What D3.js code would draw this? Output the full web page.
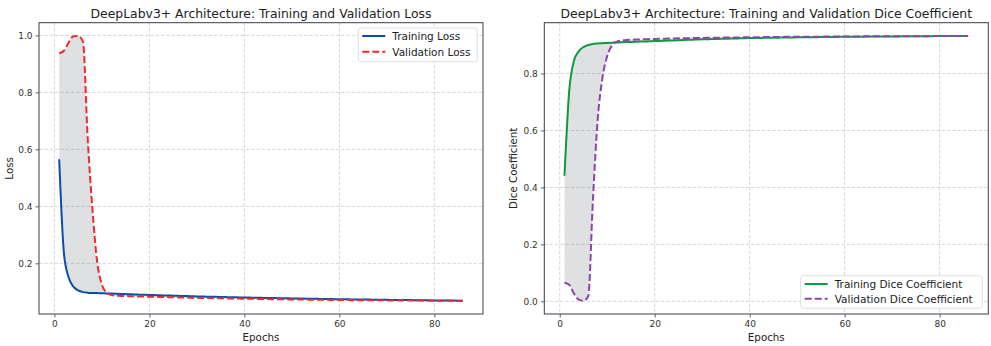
<!DOCTYPE html>
<html>
<head>
<meta charset="utf-8">
<script src="https://cdn.jsdelivr.net/npm/d3@7"></script>
<style>
  body { margin: 0; background: #fff; }
  svg { display: block; font-family: "DejaVu Sans", sans-serif; }
</style>
</head>
<body>
<div class="svg-container"></div>
<script>
const epochs = d3.range(1, 87);

const trainLoss = [
  0.565, 0.235, 0.150, 0.118, 0.105, 0.099, 0.097, 0.0960, 0.0955, 0.0950,
  0.0944, 0.0938, 0.0932, 0.0926, 0.0920, 0.0914, 0.0908, 0.0902, 0.0896, 0.0890,
  0.0885, 0.0880, 0.0875, 0.0870, 0.0865, 0.0860, 0.0855, 0.0850, 0.0845, 0.0840,
  0.0836, 0.0832, 0.0828, 0.0824, 0.0820, 0.0816, 0.0812, 0.0808, 0.0804, 0.0800,
  0.0797, 0.0794, 0.0791, 0.0788, 0.0785, 0.0782, 0.0779, 0.0776, 0.0773, 0.0770,
  0.0767, 0.0764, 0.0761, 0.0758, 0.0755, 0.0752, 0.0749, 0.0746, 0.0743, 0.0740,
  0.0738, 0.0736, 0.0734, 0.0732, 0.0730, 0.0728, 0.0726, 0.0724, 0.0722, 0.0720,
  0.0718, 0.0716, 0.0714, 0.0712, 0.0710, 0.0708, 0.0706, 0.0704, 0.0702, 0.0700,
  0.0698, 0.0696, 0.0694, 0.0692, 0.0690, 0.0688
];

const valLoss = [
  0.937, 0.946, 0.975, 0.997, 0.998, 0.978, 0.640, 0.390, 0.205, 0.125,
  0.097, 0.089, 0.0865, 0.0858, 0.0852, 0.0847, 0.0842, 0.0838, 0.0834, 0.0830,
  0.0826, 0.0822, 0.0818, 0.0814, 0.0810, 0.0806, 0.0802, 0.0798, 0.0794, 0.0790,
  0.0787, 0.0784, 0.0781, 0.0778, 0.0775, 0.0772, 0.0769, 0.0766, 0.0763, 0.0760,
  0.0757, 0.0754, 0.0751, 0.0748, 0.0745, 0.0742, 0.0740, 0.0738, 0.0736, 0.0734,
  0.0732, 0.0730, 0.0728, 0.0726, 0.0724, 0.0722, 0.0720, 0.0718, 0.0716, 0.0714,
  0.0712, 0.0710, 0.0708, 0.0706, 0.0705, 0.0704, 0.0703, 0.0702, 0.0701, 0.0700,
  0.0699, 0.0698, 0.0697, 0.0696, 0.0695, 0.0694, 0.0693, 0.0692, 0.0691, 0.0690,
  0.0689, 0.0689, 0.0688, 0.0688, 0.0687, 0.0687
];

const trainDice = [
  0.441, 0.740, 0.845, 0.878, 0.893, 0.900, 0.904, 0.9055, 0.9065, 0.9075,
  0.9083, 0.9090, 0.9097, 0.9104, 0.9110, 0.9116, 0.9122, 0.9127, 0.9132, 0.9140,
  0.9146, 0.9152, 0.9158, 0.9164, 0.9170, 0.9176, 0.9182, 0.9188, 0.9194, 0.9200,
  0.9205, 0.9209, 0.9214, 0.9218, 0.9223, 0.9227, 0.9232, 0.9236, 0.9241, 0.9245,
  0.9248, 0.9250, 0.9253, 0.9255, 0.9258, 0.9260, 0.9263, 0.9265, 0.9268, 0.9270,
  0.9272, 0.9274, 0.9276, 0.9278, 0.9280, 0.9282, 0.9284, 0.9286, 0.9288, 0.9290,
  0.9291, 0.9293, 0.9294, 0.9295, 0.9297, 0.9298, 0.9299, 0.9300, 0.9302, 0.9303,
  0.9304, 0.9305, 0.9306, 0.9308, 0.9309, 0.9310, 0.9311, 0.9312, 0.9314, 0.9315,
  0.9316, 0.9317, 0.9318, 0.9318, 0.9319, 0.9320
];

const valDice = [
  0.065, 0.058, 0.027, 0.006, 0.002, 0.018, 0.360, 0.640, 0.785, 0.862,
  0.898, 0.912, 0.916, 0.9175, 0.9185, 0.9192, 0.9198, 0.9204, 0.9210, 0.9215,
  0.9219, 0.9223, 0.9227, 0.9231, 0.9235, 0.9238, 0.9241, 0.9244, 0.9247, 0.9250,
  0.9253, 0.9255, 0.9258, 0.9260, 0.9263, 0.9265, 0.9267, 0.9269, 0.9271, 0.9273,
  0.9275, 0.9277, 0.9279, 0.9281, 0.9283, 0.9285, 0.9287, 0.9288, 0.9290, 0.9291,
  0.9292, 0.9293, 0.9294, 0.9295, 0.9296, 0.9297, 0.9298, 0.9299, 0.9300, 0.9301,
  0.9302, 0.9303, 0.9304, 0.9305, 0.9306, 0.9307, 0.9308, 0.9308, 0.9309, 0.9310,
  0.9310, 0.9311, 0.9311, 0.9312, 0.9312, 0.9313, 0.9313, 0.9314, 0.9314, 0.9315,
  0.9315, 0.9316, 0.9316, 0.9317, 0.9317, 0.9318
];

const xTicks = [0, 20, 40, 60, 80];
const lossTicks = [0.2, 0.4, 0.6, 0.8, 1.0];
const diceTicks = [0.0, 0.2, 0.4, 0.6, 0.8];

const widthSVG = 991;
const heightSVG = 346;

const svg = d3.select('.svg-container')
  .append('svg')
  .attr('width', widthSVG)
  .attr('height', heightSVG);

// matplotlib-like 5% margins
function padded(lo, hi) {
  const m = (hi - lo) * 0.05;
  return [lo - m, hi + m];
}

function drawPanel(opts) {
  const { left, right, top, bottom } = opts.box;
  const g = svg.append('g');

  const x = d3.scaleLinear()
    .domain(padded(d3.min(epochs), d3.max(epochs)))
    .range([left, right]);
  const allVals = opts.train.concat(opts.val);
  const y = d3.scaleLinear()
    .domain(padded(d3.min(allVals), d3.max(allVals)))
    .range([bottom, top]);

  // grid
  g.append('g').selectAll('line.vg')
    .data(xTicks).enter().append('line')
    .attr('x1', d => x(d)).attr('x2', d => x(d))
    .attr('y1', top).attr('y2', bottom)
    .attr('stroke', '#cdcdcd').attr('stroke-width', 0.8)
    .attr('stroke-dasharray', '3.5,1.8');
  g.append('g').selectAll('line.hg')
    .data(opts.yTicks).enter().append('line')
    .attr('x1', left).attr('x2', right)
    .attr('y1', d => y(d)).attr('y2', d => y(d))
    .attr('stroke', '#cdcdcd').attr('stroke-width', 0.8)
    .attr('stroke-dasharray', '3.5,1.8');

  const rows = epochs.map((e, i) => ({ e, t: opts.train[i], v: opts.val[i] }));

  // shaded gap between the two curves
  const area = d3.area()
    .curve(d3.curveMonotoneX)
    .x(d => x(d.e))
    .y0(d => y(d.t))
    .y1(d => y(d.v));
  g.append('path')
    .datum(rows)
    .attr('d', area)
    .attr('fill', 'rgb(128,130,135)')
    .attr('fill-opacity', 0.25);

  const lineT = d3.line().curve(d3.curveMonotoneX).x(d => x(d.e)).y(d => y(d.t));
  const lineV = d3.line().curve(d3.curveMonotoneX).x(d => x(d.e)).y(d => y(d.v));

  g.append('path').datum(rows)
    .attr('d', lineT)
    .attr('fill', 'none')
    .attr('stroke', opts.trainColor)
    .attr('stroke-width', 2);
  g.append('path').datum(rows)
    .attr('d', lineV)
    .attr('fill', 'none')
    .attr('stroke', opts.valColor)
    .attr('stroke-width', 2)
    .attr('stroke-dasharray', '7,3');

  // frame
  g.append('rect')
    .attr('x', left).attr('y', top)
    .attr('width', right - left).attr('height', bottom - top)
    .attr('fill', 'none')
    .attr('stroke', '#3b3f48')
    .attr('stroke-width', 1);

  // axes
  const xAxis = d3.axisBottom(x).tickValues(xTicks).tickSize(3.5).tickPadding(3)
    .tickFormat(d3.format('d'));
  const yAxis = d3.axisLeft(y).tickValues(opts.yTicks).tickSize(3.5).tickPadding(3)
    .tickFormat(d3.format('.1f'));

  const gx = g.append('g').attr('transform', `translate(0,${bottom})`).call(xAxis);
  const gy = g.append('g').attr('transform', `translate(${left},0)`).call(yAxis);
  [gx, gy].forEach(a => {
    a.select('.domain').remove();
    a.selectAll('line').attr('stroke', '#3b3f48').attr('stroke-width', 0.8);
    a.selectAll('text').attr('fill', '#333').style('font-size', '9px')
      .style('font-family', '"DejaVu Sans", sans-serif');
  });

  // title + labels
  g.append('text')
    .attr('x', (left + right) / 2).attr('y', 17.5)
    .attr('text-anchor', 'middle')
    .attr('fill', '#222')
    .style('font-size', '12.4px')
    .text(opts.title);
  g.append('text')
    .attr('x', (left + right) / 2).attr('y', 341)
    .attr('text-anchor', 'middle')
    .attr('fill', '#222')
    .style('font-size', '10.3px')
    .text('Epochs');
  g.append('text')
    .attr('transform', `translate(${opts.yLabelX},${(top + bottom) / 2}) rotate(-90)`)
    .attr('text-anchor', 'middle')
    .attr('fill', '#222')
    .style('font-size', '10.3px')
    .text(opts.yLabel);

  // legend
  const lg = opts.legend;
  g.append('rect')
    .attr('x', lg.x).attr('y', lg.y)
    .attr('width', lg.w).attr('height', lg.h)
    .attr('rx', 2.5)
    .attr('fill', 'white').attr('fill-opacity', 0.85)
    .attr('stroke', '#d6d6d6').attr('stroke-width', 0.8);
  const items = [
    { label: opts.trainLabel, color: opts.trainColor, dash: null },
    { label: opts.valLabel, color: opts.valColor, dash: '7,3' }
  ];
  items.forEach((it, i) => {
    const yy = lg.y + lg.firstRow + i * lg.rowGap;
    g.append('line')
      .attr('x1', lg.x + 4).attr('x2', lg.x + 27)
      .attr('y1', yy).attr('y2', yy)
      .attr('stroke', it.color).attr('stroke-width', 2)
      .attr('stroke-dasharray', it.dash);
    g.append('text')
      .attr('x', lg.x + 34).attr('y', yy + 3.8)
      .attr('fill', '#222')
      .style('font-size', '10.5px')
      .text(it.label);
  });
}

drawPanel({
  box: { left: 39, right: 483, top: 22.7, bottom: 314 },
  train: trainLoss, val: valLoss,
  yTicks: lossTicks,
  trainColor: '#0b4ea6', valColor: '#ee2a2f',
  title: 'DeepLabv3+ Architecture: Training and Validation Loss',
  yLabel: 'Loss', yLabelX: 13,
  trainLabel: 'Training Loss', valLabel: 'Validation Loss',
  legend: { x: 358.3, y: 28, w: 119, h: 33.7, firstRow: 8, rowGap: 15.7 }
});

drawPanel({
  box: { left: 544.3, right: 988.3, top: 22.7, bottom: 314 },
  train: trainDice, val: valDice,
  yTicks: diceTicks,
  trainColor: '#109a3e', valColor: '#8e44ad',
  title: 'DeepLabv3+ Architecture: Training and Validation Dice Coefficient',
  yLabel: 'Dice Coefficient', yLabelX: 517,
  trainLabel: 'Training Dice Coefficient', valLabel: 'Validation Dice Coefficient',
  legend: { x: 800.7, y: 275.7, w: 181.6, h: 32.6, firstRow: 8.3, rowGap: 14.7 }
});
</script>
</body>
</html>
